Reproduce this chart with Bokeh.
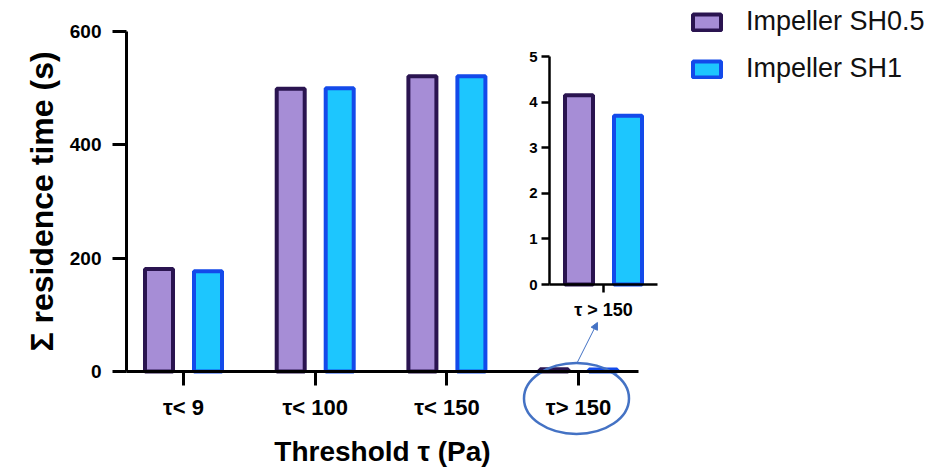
from bokeh.plotting import figure
from bokeh.models import Range1d, LinearAxis, FixedTicker, Legend, LegendItem, Arrow, NormalHead
from bokeh.embed import file_html
from bokeh.resources import INLINE

# ---------------- data ----------------
categories = ["τ< 9", "τ< 100", "τ< 150", "τ> 150"]
series_names = ["Impeller SH0.5", "Impeller SH1"]
sh05 = [181, 499, 521, 4.15]
sh1 = [177, 500, 521, 3.70]
y_ticks = [0, 200, 400, 600]
inset_category = ["τ > 150"]
inset_ticks = [0, 1, 2, 3, 4, 5]
x_title = "Threshold τ (Pa)"
y_title = "Σ residence time (s)"

# ---------------- style / layout ----------------
FONT = "Liberation Sans"
PURPLE_FILL, PURPLE_LINE = "#A68DD6", "#2A1450"
BLUE_FILL, BLUE_LINE = "#1DC6FE", "#134AEA"
ANNOT = "#4472C4"

W, H = 940, 473
AX_START = 126             # px where main axes start (y axis position)
SX = 131.7                 # px per category
CAT0 = 183                 # px of first category
AX_END = 638               # px where main x axis ends
SY = 340 / 600             # px per second (main)
Y0 = 371                   # px of y=0 (main)
ICAT0 = 603                # px of inset category
IY0 = 284                  # px of inset y=0
ISY = 228 / 5              # px per second (inset)
OFF = 24.5 / SX
BW = 28 / SX

x_range = Range1d(-CAT0 / SX, (W - CAT0) / SX)
y_range = Range1d(-(H - Y0) / SY, Y0 / SY)

p = figure(width=W, height=H, x_range=x_range, y_range=y_range,
           output_backend="svg", toolbar_location=None, x_axis_type=None,
           min_border_left=0, min_border_right=0,
           min_border_top=0, min_border_bottom=0, outline_line_color=None)
p.background_fill_color = "white"
p.border_fill_color = "white"
p.grid.visible = False
p.extra_x_ranges = {"ix": Range1d(-ICAT0 / SX, (W - ICAT0) / SX)}
p.extra_y_ranges = {"iy": Range1d(-(H - IY0) / ISY, IY0 / ISY)}

idx = list(range(len(categories)))
r1 = p.vbar(x=[i - OFF for i in idx], top=sh05, width=BW, bottom=0,
            fill_color=PURPLE_FILL, line_color=PURPLE_LINE, line_width=4)
r2 = p.vbar(x=[i + OFF for i in idx], top=sh1, width=BW, bottom=0,
            fill_color=BLUE_FILL, line_color=BLUE_LINE, line_width=4)

x_axis_start = -(CAT0 - AX_START) / SX

# main y axis
ya = p.yaxis[0]
ya.ticker = FixedTicker(ticks=y_ticks)
ya.bounds = (y_ticks[0], y_ticks[-1])
ya.axis_label = y_title
ya.fixed_location = x_axis_start

# main x axis
xa = LinearAxis(ticker=FixedTicker(ticks=idx),
                major_label_overrides={i: c for i, c in zip(idx, categories)},
                bounds=(x_axis_start, (AX_END - CAT0) / SX),
                fixed_location=0, axis_label=x_title)
p.add_layout(xa, "below")

for ax, lab_size, ttl_size, lab_stand, ttl_stand in [(ya, "19px", "32px", 11, 7),
                                                     (xa, "22px", "28px", 9, 13)]:
    ax.axis_line_width = 3
    ax.axis_line_color = "black"
    ax.major_tick_line_width = 3
    ax.major_tick_line_color = "black"
    ax.major_tick_out = 14
    ax.major_tick_in = 0
    ax.minor_tick_line_color = None
    ax.major_label_text_font = FONT
    ax.major_label_text_font_style = "bold"
    ax.major_label_text_font_size = lab_size
    ax.major_label_text_color = "black"
    ax.major_label_standoff = lab_stand
    ax.axis_label_text_font = FONT
    ax.axis_label_text_font_style = "bold"
    ax.axis_label_text_font_size = ttl_size
    ax.axis_label_text_color = "black"
    ax.axis_label_standoff = ttl_stand

# inset
p.vbar(x=[-OFF], top=[sh05[3]], width=BW, bottom=0, x_range_name="ix", y_range_name="iy",
       fill_color=PURPLE_FILL, line_color=PURPLE_LINE, line_width=4)
p.vbar(x=[OFF], top=[sh1[3]], width=BW, bottom=0, x_range_name="ix", y_range_name="iy",
       fill_color=BLUE_FILL, line_color=BLUE_LINE, line_width=4)

ihalf = 54 / SX
iya = LinearAxis(x_range_name="ix", y_range_name="iy", ticker=FixedTicker(ticks=inset_ticks),
                 bounds=(inset_ticks[0], inset_ticks[-1]), fixed_location=-ihalf)
p.add_layout(iya, "left")
ixa = LinearAxis(x_range_name="ix", y_range_name="iy", ticker=FixedTicker(ticks=[0]),
                 major_label_overrides={0: inset_category[0]},
                 bounds=(-ihalf, ihalf), fixed_location=0)
p.add_layout(ixa, "below")
for ax in [iya, ixa]:
    ax.axis_line_width = 2.5
    ax.axis_line_color = "black"
    ax.major_tick_line_width = 2.5
    ax.major_tick_line_color = "black"
    ax.major_tick_out = 8
    ax.major_tick_in = 0
    ax.minor_tick_line_color = None
    ax.major_label_text_font = FONT
    ax.major_label_text_font_style = "bold"
    ax.major_label_text_font_size = "15px"
    ax.major_label_text_color = "black"
    ax.major_label_standoff = 4
ixa.major_label_text_font_size = "18px"
ixa.major_label_standoff = 7

# annotation: ellipse around last category + arrow to inset
p.ellipse(x=[idx[3] - 0.016], y=[-47.6], width=105, height=71,
          width_units="screen", height_units="screen",
          fill_color=None, line_color=ANNOT, line_width=2.5)
p.add_layout(Arrow(end=NormalHead(size=7, fill_color=ANNOT, line_color=ANNOT),
                   x_start=idx[3] - 0.01, y_start=15.9, x_end=idx[3] + 0.143, y_end=86.5,
                   line_color=ANNOT, line_width=1))

legend = Legend(items=[LegendItem(label=series_names[0], renderers=[r1]),
                       LegendItem(label=series_names[1], renderers=[r2])],
                location=(689, 389), orientation="vertical",
                glyph_width=35, glyph_height=20, label_height=20,
                spacing=16, label_standoff=22, padding=0, margin=0,
                border_line_color=None, background_fill_alpha=0,
                label_text_font=FONT, label_text_font_size="27px",
                label_text_color="#111111")
p.add_layout(legend)

open("out.html", "w").write(file_html(p, INLINE))
